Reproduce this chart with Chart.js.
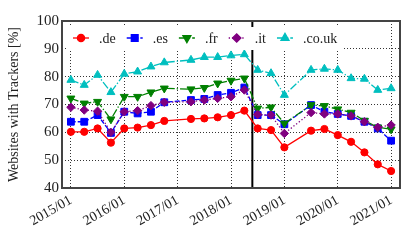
<!DOCTYPE html>
<html>
<head>
<meta charset="utf-8">
<script src="https://cdn.jsdelivr.net/npm/chart.js@4.4.0/dist/chart.umd.min.js"></script>
<style>
  html, body { margin: 0; padding: 0; background: #fff; }
</style>
</head>
<body>
<canvas id="trackerChart" width="415" height="244"></canvas>
<script>
// ==================== DATA ====================
const dates = [
    '2015/01', '2015/04', '2015/07', '2015/10',
    '2016/01', '2016/04', '2016/07', '2016/10',
    '2017/04', '2017/07', '2017/10',
    '2018/01', '2018/04', '2018/07', '2018/10',
    '2019/01', '2019/07', '2019/10',
    '2020/01', '2020/04', '2020/07', '2020/10',
    '2021/01'
];
const seriesNames = ['.de', '.es', '.fr', '.it', '.co.uk'];
const deValues   = [60.2, 60.2, 61.4, 56.3, 61.4, 61.7, 62.6, 64.1, 64.8, 65.0, 65.4, 66.2, 67.8, 61.4, 60.8, 54.6, 60.6, 61.2, 59.0, 56.6, 52.8, 48.5, 46.1];
const esValues   = [63.8, 63.8, 66.2, 59.8, 67.4, 66.8, 67.4, 70.8, 71.6, 72.0, 73.4, 74.2, 76.1, 66.2, 66.2, 62.9, 69.8, 67.4, 66.6, 65.9, 63.8, 61.4, 57.0];
const frValues   = [72.2, 70.4, 71.0, 64.7, 72.8, 72.8, 74.4, 75.8, 75.5, 76.0, 77.6, 78.6, 79.4, 68.6, 69.0, 63.2, 69.8, 69.5, 68.3, 67.1, 64.2, 61.8, 61.1];
const itValues   = [69.0, 68.0, 67.6, 60.0, 67.4, 67.8, 69.6, 70.8, 71.0, 71.6, 72.2, 72.8, 75.2, 66.4, 66.2, 59.6, 67.1, 66.6, 66.6, 65.9, 63.8, 61.8, 62.6];
const ukValues   = [78.8, 77.0, 80.6, 74.4, 81.0, 81.8, 83.6, 85.1, 86.0, 87.0, 87.0, 87.6, 88.0, 82.4, 81.2, 73.4, 82.4, 82.8, 82.4, 79.4, 79.2, 75.2, 75.8];
const yearTicks  = ['2015/01', '2016/01', '2017/01', '2018/01', '2019/01', '2020/01', '2021/01'];
const gdprDate   = '2018/05/25';

// month offset from 2015/01
function monthIndex(s) {
    const p = s.split('/').map(Number);
    return (p[0] - 2015) * 12 + (p[1] - 1) + (p[2] ? (p[2] - 1) / 30 : 0);
}

const FONT = 'Liberation Serif';
const lw = 1.3;
const styles = [
    { color: '#ff0000', point: 'circle',   radius: 3.6, rot: 0,   dash: [] },
    { color: '#0000ff', point: 'rect',     radius: 4.8, rot: 0,   dash: [4.8, 2] },
    { color: '#008000', point: 'triangle', radius: 4.6, rot: 180, dash: [8, 2, 1.3, 2] },
    { color: '#800080', point: 'rectRot',  radius: 4.2, rot: 0,   dash: [1.3, 2.1] },
    { color: '#00bfbf', point: 'triangle', radius: 4.6, rot: 0,   dash: [8, 2, 1.3, 2] }
];
const allValues = [deValues, esValues, frValues, itValues, ukValues];

const datasets = allValues.map((vals, i) => ({
    label: seriesNames[i],
    data: vals.map((v, j) => ({ x: monthIndex(dates[j]), y: v })),
    borderColor: styles[i].color,
    backgroundColor: styles[i].color,
    borderWidth: lw,
    borderDash: styles[i].dash,
    pointStyle: styles[i].point,
    pointRadius: styles[i].radius,
    pointRotation: styles[i].rot,
    pointBorderWidth: 1,
    pointBackgroundColor: styles[i].color,
    pointBorderColor: styles[i].color,
    tension: 0,
    order: 5 - i
}));

// frame + GDPR line + in-plot legend
const decorPlugin = {
    id: 'decor',
    beforeDatasetsDraw(chart) {
        const { ctx, chartArea: a, scales } = chart;
        const x = scales.x.getPixelForValue(monthIndex(gdprDate));
        ctx.save();
        ctx.strokeStyle = '#000';
        ctx.lineWidth = 2;
        ctx.beginPath();
        ctx.moveTo(x, a.top);
        ctx.lineTo(x, a.bottom);
        ctx.stroke();
        ctx.restore();
    },
    afterDatasetsDraw(chart) {
        const { ctx, chartArea: a } = chart;
        ctx.save();
        // legend box
        ctx.fillStyle = '#fff';
        ctx.fillRect(a.left + 5, a.top + 6, 276, 23);
        const y = a.top + 17;
        let x = a.left + 19;
        ctx.font = '14px "' + FONT + '"';
        ctx.textBaseline = 'middle';
        chart.data.datasets.forEach((ds, i) => {
            ctx.strokeStyle = ds.borderColor;
            ctx.fillStyle = ds.borderColor;
            ctx.lineWidth = lw;
            ctx.setLineDash(ds.borderDash);
            ctx.beginPath();
            ctx.moveTo(x - 8, y);
            ctx.lineTo(x + 8, y);
            ctx.stroke();
            ctx.setLineDash([]);
            Chart.helpers.drawPoint(ctx, {
                pointStyle: ds.pointStyle, rotation: ds.pointRotation,
                radius: ds.pointRadius, borderWidth: 1
            }, x, y);
            ctx.fillStyle = '#222';
            ctx.fillText(ds.label, x + 18, y + 1);
            x = x + 18 + ctx.measureText(ds.label).width + 19;
        });
        ctx.restore();
    },
    afterDraw(chart) {
        const { ctx, chartArea: a } = chart;
        ctx.save();
        ctx.strokeStyle = '#444';
        ctx.lineWidth = 2;
        ctx.strokeRect(a.left, a.top, a.right - a.left, a.bottom - a.top);
        ctx.restore();
    }
};

new Chart(document.getElementById('trackerChart'), {
    type: 'line',
    data: { datasets: datasets },
    plugins: [decorPlugin],
    options: {
        responsive: false,
        animation: false,
        devicePixelRatio: 1,
        layout: { padding: { top: 21, right: 15, left: 0, bottom: 0 } },
        plugins: { legend: { display: false }, tooltip: { enabled: false } },
        scales: {
            x: {
                type: 'linear',
                min: -2,
                max: 74,
                afterBuildTicks: s => { s.ticks = yearTicks.map(t => ({ value: monthIndex(t) })); },
                afterFit: s => { s.height = 56; },
                grid: { color: '#000', lineWidth: 0.8, drawTicks: false },
                border: { display: false, dash: [1, 2] },
                ticks: {
                    color: '#222',
                    font: { family: FONT, size: 14 },
                    maxRotation: 30,
                    minRotation: 30,
                    padding: 4,
                    callback: (v) => yearTicks.find(t => monthIndex(t) === v) || ''
                }
            },
            y: {
                min: 40,
                max: 100,
                afterFit: s => { s.width = 62; },
                grid: { color: '#000', lineWidth: 0.8, drawTicks: false },
                border: { display: false, dash: [1, 2] },
                ticks: {
                    stepSize: 10,
                    color: '#222',
                    padding: 3,
                    font: { family: FONT, size: 15 }
                },
                title: {
                    display: true,
                    text: 'Websites with Trackers [%]',
                    color: '#222',
                    font: { family: FONT, size: 14 },
                    padding: { top: 6, bottom: 0 }
                }
            }
        }
    }
});
</script>
</body>
</html>
